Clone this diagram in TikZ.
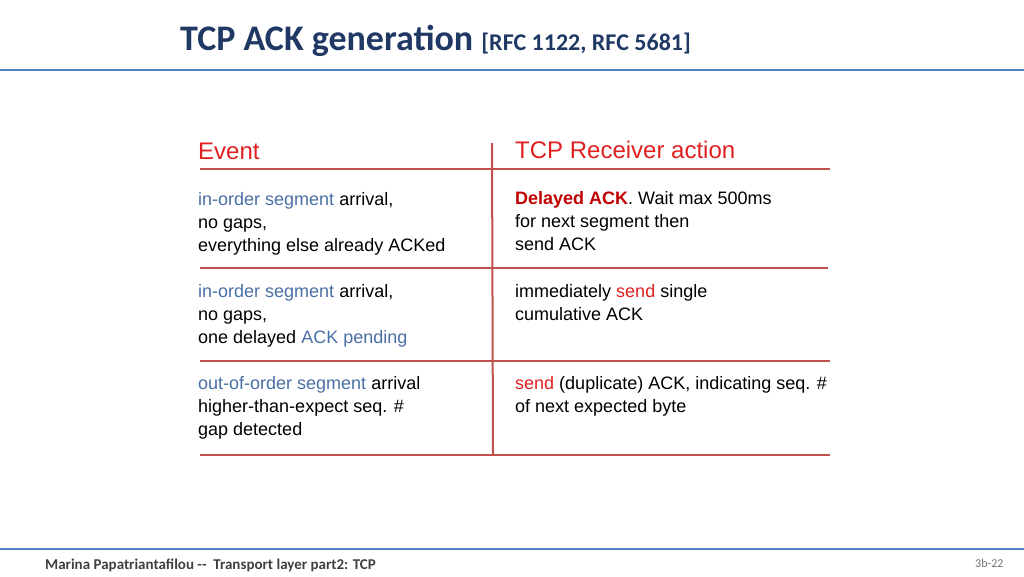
\documentclass[tikz,border=0pt]{standalone}
\usepackage{fontspec}
\setmainfont{Liberation Sans}
\newfontfamily\calfnt{Carlito}
\definecolor{ttl}{HTML}{1F3864}
\definecolor{rule}{HTML}{4F81BD}
\definecolor{tab}{HTML}{C0504D}
\definecolor{rd}{HTML}{E02020}
\definecolor{bl}{HTML}{4A6FA5}
\definecolor{drd}{HTML}{C00000}
\tikzset{cell/.style={anchor=north west,inner sep=0pt,align=left,font=\fontsize{18}{23}\selectfont},
 tline/.style={draw=tab,line width=2pt},
 hd/.style={anchor=west,inner sep=0pt,font=\fontsize{24}{28}\selectfont,text=rd}}
\begin{document}
\begin{tikzpicture}[x=1pt,y=-1pt]
\useasboundingbox (0,0) rectangle (1024,576);
\node[anchor=base west,inner sep=0] (title) at (180,50) {\calfnt\bfseries\color{ttl}\fontsize{36}{40}\selectfont TCP ACK generation \fontsize{24}{28}\selectfont[RFC 1122, RFC 5681]};
\draw[rule,line width=2pt] (0,70) -- (1024,70);
\draw[rule,line width=2pt] (0,549) -- (1024,549);
\node[hd] (ev) at (198,151) {Event};
\node[hd] (ra) at (515,150) {TCP Receiver action};
\draw[tline] (200,169) -- (830,169);
\draw[tline] (200,268) -- (828,268);
\draw[tline] (200,361) -- (830,361);
\draw[tline] (200,455) -- (830,455);
\draw[tline] (492,143) -- (493,455);
\node[cell] (l1) at (198,192) {\textcolor{bl}{in-order segment} arrival,\\no gaps,\\everything else already ACKed};
\node[cell] (r1) at (515,191) {\textcolor{drd}{\bfseries Delayed ACK}. Wait max 500ms\\for next segment then\\send ACK};
\node[cell] (l2) at (198,284) {\textcolor{bl}{in-order segment} arrival,\\no gaps,\\one delayed \textcolor{bl}{ACK pending}};
\node[cell] (r2) at (515,284) {immediately \textcolor{rd}{send} single\\cumulative ACK};
\node[cell] (l3) at (198,376) {\textcolor{bl}{out-of-order segment} arrival\\higher-than-expect seq. \#\\gap detected};
\node[cell] (r3) at (515,376) {\textcolor{rd}{send} (duplicate) ACK, indicating seq. \#\\of next expected byte};
\node[anchor=west,inner sep=0] (ft) at (45,565) {\calfnt\bfseries\color{black!75}\fontsize{15}{18}\selectfont Marina Papatriantafilou --\ \ Transport layer part2: TCP};
\node[anchor=west,inner sep=0] (pg) at (975,563) {\calfnt\color{black!55}\fontsize{12}{14}\selectfont 3b-22};
\end{tikzpicture}
\end{document}
